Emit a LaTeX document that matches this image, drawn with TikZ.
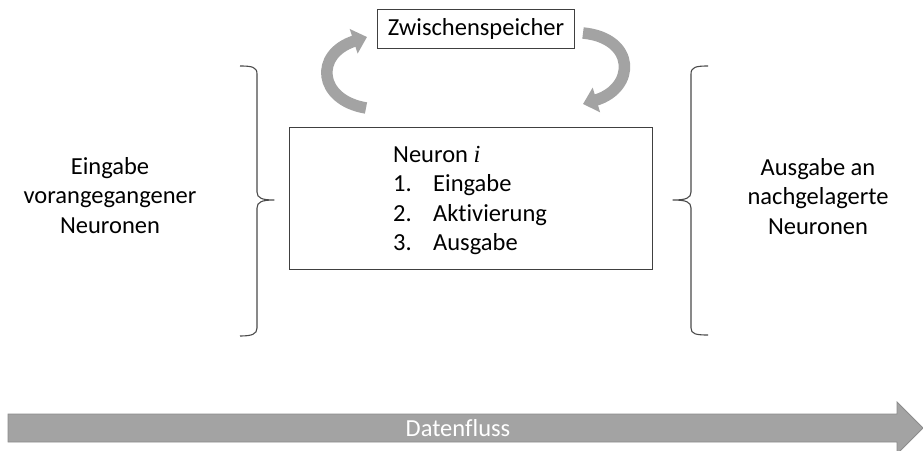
\documentclass[tikz,border=0pt]{standalone}
\usepackage{fontspec}
\setmainfont{Carlito}[Ligatures=NoCommon]
\newfontfamily\myserifit{Liberation Serif}
\usetikzlibrary{arrows.meta}
\definecolor{arrowgray}{HTML}{A3A3A3}
\definecolor{arrowedge}{HTML}{8C8C8C}
\definecolor{bracegray}{HTML}{4A4A4A}
\tikzset{
  txt/.style={font=\fontsize{24.5}{29.5}\selectfont, inner sep=0pt},
  boxed/.style={draw=black!75, line width=0.8pt},
  bracestyle/.style={draw=bracegray, line width=1.1pt, line join=round},
  curvarrow/.style={draw=arrowgray, line width=11.5pt,
    -{Triangle[width=25pt,length=14pt]}},
}
\begin{document}
\begin{tikzpicture}[x=1pt,y=-1pt]
\useasboundingbox (0,0) rectangle (923,450);
\clip (0,0) rectangle (923,450);

% Zwischenspeicher box
\node[boxed, txt, minimum width=197pt, minimum height=39pt] (zw) at (476,28.5) {Zwischenspeicher};

% Neuron box
\draw[boxed] (289,127) rectangle (652,269);
\node[txt, anchor=base west] (n0) at (393,162) {Neuron {\myserifit\itshape i}};
\node[txt, anchor=base west] (n1) at (393,191.5) {\makebox[40pt][l]{1.}Eingabe};
\node[txt, anchor=base west] (n2) at (393,221) {\makebox[40pt][l]{2.}Aktivierung};
\node[txt, anchor=base west] (n3) at (393,250.5) {\makebox[40pt][l]{3.}Ausgabe};

% curved arrows
\coordinate (la0) at (366,108);
\coordinate (la1) at (367,37);
\draw[curvarrow] (la0) .. controls (318,100) and (314,54) .. (la1);
\coordinate (ra0) at (583,33);
\coordinate (ra1) at (583,104);
\draw[curvarrow] (ra0) .. controls (636,38) and (636,88) .. (ra1);

% braces
\draw[bracestyle] (240,66) .. controls (252,66) and (257,67) .. (257,74)
  -- (257,192) .. controls (257,198) and (262,200) .. (274,200)
  .. controls (262,200) and (257,202) .. (257,208)
  -- (257,328) .. controls (257,334) and (252,336) .. (240,336);
\draw[bracestyle] (708,66) .. controls (696,66) and (691,67) .. (691,74)
  -- (691,192) .. controls (691,198) and (686,200) .. (673,200)
  .. controls (686,200) and (691,202) .. (691,208)
  -- (691,328) .. controls (691,334) and (696,335) .. (708,335);

% side texts
\node[txt, align=center, anchor=base] (inL) at (110,233) {Eingabe\\vorangegangener\\Neuronen};
\node[txt, align=center, anchor=base] (outR) at (818,234) {Ausgabe an\\nachgelagerte\\Neuronen};

% Datenfluss arrow
\fill[arrowgray, draw=arrowedge, line width=0.8pt]
  (8,414) -- (897,414) -- (897,402) -- (923,428) -- (897,454) -- (897,442) -- (8,442) -- cycle;
\node[txt, text=white] (flow) at (458,428) {Datenfluss};
\end{tikzpicture}
\end{document}
